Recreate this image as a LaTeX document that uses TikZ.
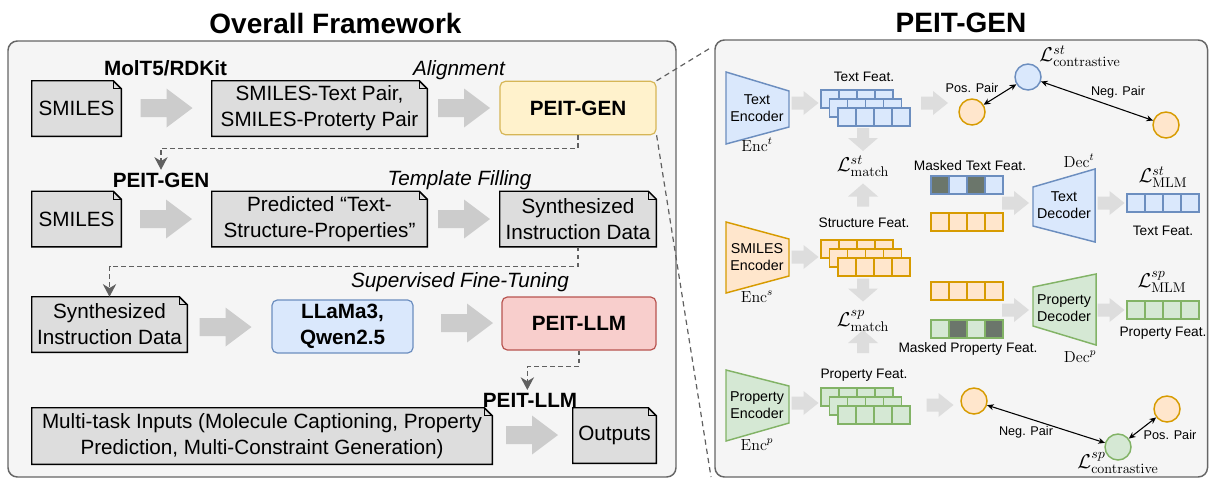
\RequirePackage{fix-cm}
\documentclass[tikz,border=0pt]{standalone}
\usepackage[no-math]{fontspec}
\newfontfamily\arial{Liberation Sans}
\usetikzlibrary{arrows.meta}
\pgfdeclarelayer{bg}\pgfdeclarelayer{mid}\pgfsetlayers{bg,mid,main}
\definecolor{panelfill}{HTML}{F5F5F5}
\definecolor{panelline}{HTML}{666666}
\definecolor{docfill}{HTML}{DDDDDD}
\definecolor{bigarrow}{HTML}{CCCCCC}
\definecolor{smallarrow}{HTML}{DDDDDD}
\definecolor{yfill}{HTML}{FFF2CC}\definecolor{yline}{HTML}{D6B656}
\definecolor{bfill}{HTML}{DAE8FC}\definecolor{bline}{HTML}{6C8EBF}
\definecolor{rfill}{HTML}{F8CECC}\definecolor{rline}{HTML}{B85450}
\definecolor{ofill}{HTML}{FFE6CC}\definecolor{oline}{HTML}{D79B00}
\definecolor{gfill}{HTML}{D5E8D4}\definecolor{gline}{HTML}{82B366}
\definecolor{maskfill}{HTML}{6B766B}
\definecolor{dashcol}{HTML}{606060}
\newcommand\blockarr[8]{\fill[#8,shift={(#1,#2)},rotate=#3] ({-#4/2},{-#6/2}) -- ({#4/2-#7},{-#6/2}) -- ({#4/2-#7},{-#5/2}) -- ({#4/2},0) -- ({#4/2-#7},{#5/2}) -- ({#4/2-#7},{#6/2}) -- ({-#4/2},{#6/2}) -- cycle;}
\newcommand\bigarr[2]{\blockarr{#1}{#2}{0}{52}{39}{18}{26}{bigarrow}}
\newcommand\harr[2]{\blockarr{#1}{#2}{0}{27}{24}{13}{15}{smallarrow}}
\newcommand\darr[2]{\blockarr{#1}{#2}{-90}{23}{30}{12}{13}{smallarrow}}
\newcommand\uarr[2]{\blockarr{#1}{#2}{90}{23}{30}{12}{13}{smallarrow}}
\newcommand\docshape[1]{\begin{pgfonlayer}{mid}\filldraw[docline] (#1.south west) -- (#1.north west) -- ([xshift=-6pt]#1.north east) -- ([yshift=-6pt]#1.north east) -- (#1.south east) -- cycle; \draw[foldline] ([xshift=-6pt]#1.north east) -- ([xshift=-6pt,yshift=-6pt]#1.north east) -- ([yshift=-6pt]#1.north east);\end{pgfonlayer}}
\newcommand\cellrow[7]{\foreach \f [count=\i from 0] in {#4,#5,#6,#7}{\draw[cell, draw=#3, fill=\f] ({#1+18*\i},#2) rectangle ++(18,18);}}
\newcommand\cellstack[4]{\cellrow{#1}{#2}{#3}{#4}{#4}{#4}{#4}\cellrow{#1+8.5}{#2+9}{#3}{#4}{#4}{#4}{#4}\cellrow{#1+17}{#2+18}{#3}{#4}{#4}{#4}{#4}}
\begin{document}
\begin{tikzpicture}[x=0.75pt,y=-0.75pt,
  title/.style={font=\arial\bfseries\fontsize{21}{25}\selectfont, inner sep=0pt},
  lt/.style={font=\arial\fontsize{15.5}{19.5}\selectfont, align=center, inner sep=0pt},
  ltb/.style={font=\arial\bfseries\fontsize{15.5}{19.5}\selectfont, align=center, inner sep=0pt},
  lti/.style={font=\arial\itshape\fontsize{15.5}{19.5}\selectfont, align=center, inner sep=0pt},
  doc/.style={lt, minimum height=41.25pt},
  docline/.style={draw=black, fill=docfill, line width=1.1pt, line join=miter},
  foldline/.style={draw=black, line width=0.6pt},
  rbox/.style={ltb, rounded corners=4pt, line width=0.9pt, minimum height=40pt},
  dashconn/.style={draw=dashcol, line width=0.9pt, dash pattern=on 3.5pt off 2.5pt, -{Stealth[length=9.5pt,width=10pt,inset=3pt]}},
  zoomline/.style={draw=dashcol, line width=0.9pt, dash pattern=on 4pt off 3pt},
  cell/.style={line width=1.1pt},
  rt/.style={font=\arial\fontsize{10.3}{12.75}\selectfont, align=center, inner sep=0pt},
  pairlab/.style={font=\arial\fontsize{9.5}{11}\selectfont, inner sep=0pt},
  mlab/.style={font=\fontsize{15}{17}\selectfont, inner sep=0pt},
  elab/.style={font=\fontsize{12}{14}\selectfont, inner sep=0pt},
  coderb/.style={draw=bline, fill=bfill, line width=1.1pt},
  codero/.style={draw=oline, fill=ofill, line width=1.1pt},
  coderg/.style={draw=gline, fill=gfill, line width=1.1pt},
  dot/.style={circle, minimum size=19.5pt, inner sep=0pt, line width=1.1pt},
  pairarr/.style={draw=black, line width=0.8pt, {Stealth[length=5pt,width=4.5pt]}-{Stealth[length=5pt,width=4.5pt]}}
]
\useasboundingbox (0,0) rectangle (1209,479);
% panels
\begin{pgfonlayer}{bg}
\filldraw[fill=panelfill, draw=panelline, line width=1.1pt, rounded corners=7pt] (8,41) rectangle (676,477);
\filldraw[fill=panelfill, draw=panelline, line width=1.1pt, rounded corners=7pt] (715,40) rectangle (1207.5,477);
\end{pgfonlayer}
\node[title] (t1) at (335.5,23) {Overall Framework};
\node[title] (t2) at (961,23) {PEIT-GEN};

% ---------- left panel ----------
% row 1
\node[ltb] (lab1) at (165.5,68) {MolT5/RDKit};
\node[lti] (lali) at (459,70) {Alignment};
\node[doc, minimum width=66.75pt] (smi1) at (76.5,108.5) {SMILES}; \docshape{smi1}
\node[doc, minimum width=161.25pt] (pair1) at (319.5,108.5) {SMILES-Text Pair,\\SMILES-Proterty Pair}; \docshape{pair1}
\node[rbox, draw=yline, fill=yfill, minimum width=117pt] (gen1) at (578,108) {PEIT-GEN};
\bigarr{166.5}{108}
\bigarr{464}{108}
% row 2
\node[ltb] (lab2) at (161,180) {PEIT-GEN};
\node[lti] (ltem) at (459.5,180) {Template Filling};
\node[doc, minimum width=66.75pt] (smi2) at (76.5,219) {SMILES}; \docshape{smi2}
\node[doc, minimum width=161.25pt] (pred) at (319.5,219) {Predicted “Text-\\Structure-Properties”}; \docshape{pred}
\node[doc, minimum width=117pt] (synth1) at (578,219) {Synthesized\\Instruction Data}; \docshape{synth1}
\bigarr{166}{219}
\bigarr{464}{219}
% row 3
\node[lti] (lsft) at (460,282) {Supervised Fine-Tuning};
\node[doc, minimum width=116.25pt] (synth2) at (109.5,324.5) {Synthesized\\Instruction Data}; \docshape{synth2}
\node[rbox, draw=bline, fill=bfill, minimum width=105.75pt, minimum height=39.75pt] (llama) at (342.5,326.5) {LLaMa3,\\Qwen2.5};
\node[rbox, draw=rline, fill=rfill, minimum width=115.5pt, minimum height=39.75pt] (llm) at (579,323.5) {PEIT-LLM};
\bigarr{225.5}{327}
\bigarr{467}{323}
% row 4
\node[ltb] (lab4) at (530,400) {PEIT-LLM};
\node[doc, minimum width=345pt, minimum height=42pt] (multi) at (262,436) {Multi-task Inputs (Molecule Captioning, Property\\Prediction, Multi-Constraint Generation)}; \docshape{multi}
\node[doc, minimum width=62.25pt] (outp) at (614.5,435.5) {Outputs}; \docshape{outp}
\bigarr{532}{435}
% dashed connectors
\draw[dashconn] (gen1.south) -- ++(0,13) -| ([yshift=2pt]lab2.north);
\draw[dashconn] (synth1.south) -- ++(0,20) -| (synth2.north);
\draw[dashconn] (llm.south) -- ++(0,16) -| ([xshift=-2pt,yshift=2pt]lab4.north);
% zoom lines
\coordinate (zt) at (712,47);
\coordinate (zb) at (711,477);
\draw[zoomline] (gen1.north east) -- (zt);
\draw[zoomline] (gen1.south east) -- (zb);

% ---------- right panel ----------
% encoders
\filldraw[coderb] (726,72) -- (789,91) -- (789,127) -- (726,144) -- cycle;
\node[rt, font=\arial\fontsize{10.7}{13}\selectfont] (enct) at (757,108) {Text\\Encoder};
\node[elab] (enctl) at (757,145) {$\mathrm{Enc}^{t}$};
\filldraw[codero] (726,222) -- (789,239) -- (789,276) -- (726,293) -- cycle;
\node[rt, font=\arial\fontsize{10.7}{13}\selectfont] (encs) at (757,257) {SMILES\\Encoder};
\node[elab] (encsl) at (757,297) {$\mathrm{Enc}^{s}$};
\filldraw[coderg] (726,370) -- (789,386) -- (789,423) -- (726,441) -- cycle;
\node[rt, font=\arial\fontsize{10.7}{13}\selectfont] (encp) at (757,405) {Property\\Encoder};
\node[elab] (encpl) at (757,445) {$\mathrm{Enc}^{p}$};
\harr{805}{103}
\harr{805}{257}
\harr{805}{403}
% feature stacks
\node[rt] (tfeat) at (864,77) {Text Feat.};
\cellstack{821}{90}{bline}{bfill}
\node[rt] (sfeat) at (864,223) {Structure Feat.};
\cellstack{821}{240}{oline}{ofill}
\node[rt] (pfeat) at (864,375) {Property Feat.};
\cellstack{821}{388}{gline}{gfill}
\darr{863}{139.5}
\uarr{863}{195}
\darr{863}{290}
\uarr{863}{341.5}
\node[mlab] (lmst) at (863,166) {$\mathcal{L}^{st}_{\mathrm{match}}$};
\node[mlab] (lmsp) at (863,321) {$\mathcal{L}^{sp}_{\mathrm{match}}$};
% contrastive top
\harr{934.5}{103}
\node[dot, draw=bline, fill=bfill] (cst) at (1028,77) {};
\node[dot, draw=oline, fill=ofill] (pos1) at (972,112) {};
\node[dot, draw=oline, fill=ofill] (neg1) at (1166,125) {};
\node[mlab] (lcst) at (1080,56) {$\mathcal{L}^{st}_{\mathrm{contrastive}}$};
\node[pairlab] (pp1) at (972,88) {Pos. Pair};
\node[pairlab] (np1) at (1118,92) {Neg. Pair};
\draw[pairarr] (pos1) -- (cst);
\draw[pairarr] (cst) -- (neg1);
% contrastive bottom
\harr{940}{405}
\node[dot, draw=oline, fill=ofill] (neg2) at (974,401) {};
\node[dot, draw=gline, fill=gfill] (csp) at (1118,447) {};
\node[dot, draw=oline, fill=ofill] (pos2) at (1167,409) {};
\node[mlab] (lcsp) at (1118,463) {$\mathcal{L}^{sp}_{\mathrm{contrastive}}$};
\node[pairlab] (np2) at (1026,432) {Neg. Pair};
\node[pairlab] (pp2) at (1170,435) {Pos. Pair};
\draw[pairarr] (neg2) -- (csp);
\draw[pairarr] (csp) -- (pos2);
% masked features and decoders
\node[rt] (mtf) at (970,166) {Masked Text Feat.};
\cellrow{931}{176}{bline}{maskfill}{bfill}{maskfill}{bfill}
\cellrow{931}{213}{oline}{ofill}{ofill}{ofill}{ofill}
\cellrow{931}{282}{oline}{ofill}{ofill}{ofill}{ofill}
\cellrow{931}{320}{gline}{gfill}{maskfill}{gfill}{maskfill}
\node[rt] (mpf) at (968,349) {Masked Property Feat.};
\harr{1015.5}{203}
\harr{1015.5}{310}
\filldraw[coderb] (1033,187) -- (1095,169) -- (1095,242) -- (1033,226) -- cycle;
\node[rt, font=\arial\fontsize{10.7}{13}\selectfont] (dect) at (1064,205) {Text\\Decoder};
\node[elab] (dectl) at (1079,161) {$\mathrm{Dec}^{t}$};
\filldraw[coderg] (1033,287) -- (1096,274) -- (1096,345) -- (1033,326) -- cycle;
\node[rt, font=\arial\fontsize{10.7}{13}\selectfont] (decp) at (1064,308) {Property\\Decoder};
\node[elab] (decpl) at (1080,357) {$\mathrm{Dec}^{p}$};
\harr{1111}{203}
\harr{1111}{310}
\cellrow{1127}{194}{bline}{bfill}{bfill}{bfill}{bfill}
\cellrow{1127}{301}{gline}{gfill}{gfill}{gfill}{gfill}
\node[mlab] (lmlmt) at (1163,177) {$\mathcal{L}^{st}_{\mathrm{MLM}}$};
\node[rt] (otf) at (1163,231) {Text Feat.};
\node[mlab] (lmlmp) at (1162,282) {$\mathcal{L}^{sp}_{\mathrm{MLM}}$};
\node[rt] (opf) at (1163,333) {Property Feat.};
\end{tikzpicture}
\end{document}
